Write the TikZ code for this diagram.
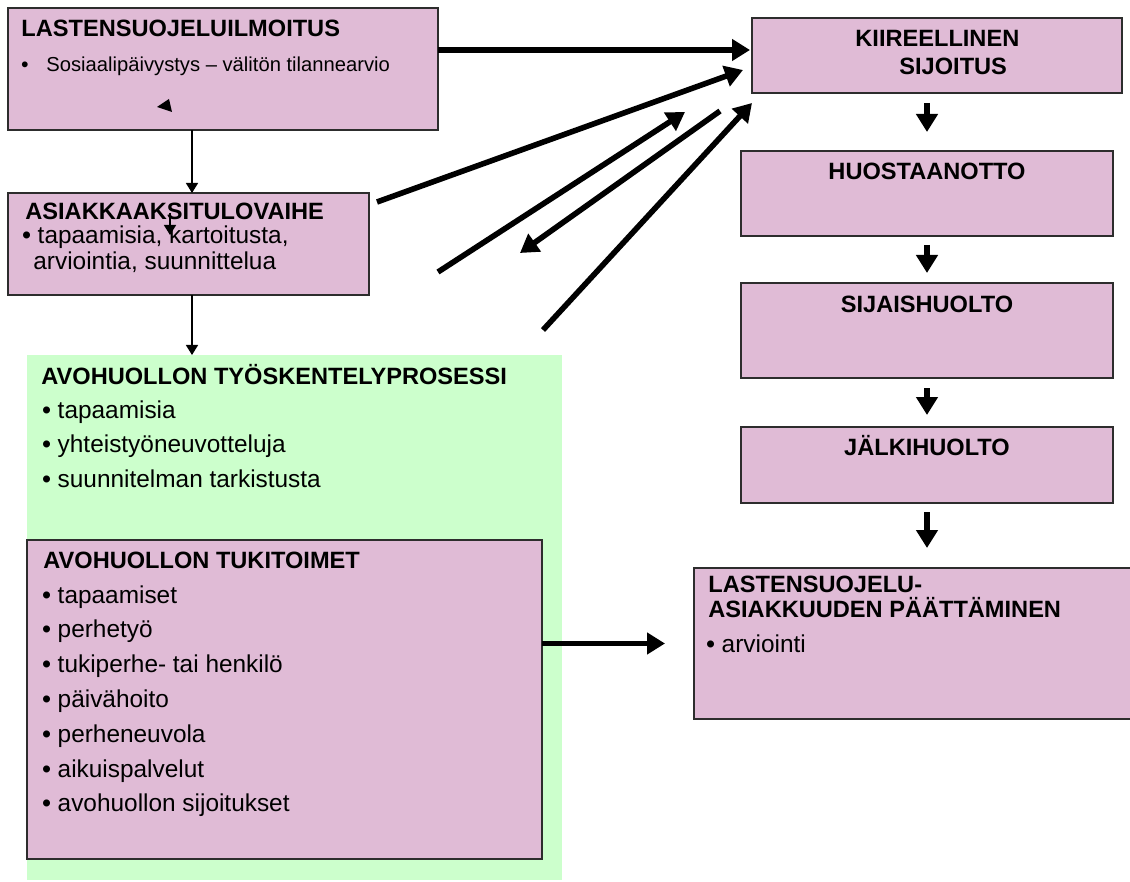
\documentclass[tikz,border=0pt]{standalone}
\usepackage{fontspec}
\setmainfont{Liberation Sans}
\usetikzlibrary{arrows.meta,calc}
\definecolor{pinkbox}{RGB}{224,187,214}
\definecolor{greenbox}{RGB}{204,255,204}
\definecolor{edgecol}{RGB}{45,45,45}
\newcommand{\bul}{{\bfseries •}}
\begin{document}
\begin{tikzpicture}[x=0.5pt,y=-0.5pt,
  box/.style={draw=edgecol, line width=1pt, fill=pinkbox, inner sep=0pt, outer sep=0pt, anchor=north west},
  head/.style={anchor=base west, inner sep=0pt, font=\fontsize{11.8}{14}\selectfont\bfseries},
  headc/.style={anchor=base, inner sep=0pt, font=\fontsize{11.8}{14}\selectfont\bfseries},
  body/.style={anchor=base west, inner sep=0pt, font=\fontsize{12.2}{14}\selectfont},
  small/.style={anchor=base west, inner sep=0pt, font=\fontsize{10.1}{12}\selectfont},
  fat/.style={line width=2.8pt, -{Triangle[length=9pt,width=10.5pt]}},
  thinarr/.style={line width=0.75pt, -{Triangle[length=5pt,width=6pt]}},
]
\useasboundingbox (0,0) rectangle (1130,882);
\clip (0,0) rectangle (1130,882);

% ---------- boxes ----------
\node[fill=greenbox, inner sep=0pt, outer sep=0pt, anchor=north west,
      minimum width=267.5pt, minimum height=262.5pt] (green) at (27,355) {};
\node[box, minimum width=215pt, minimum height=61pt] (b1) at (8,8) {};
\node[box, minimum width=180.5pt, minimum height=51pt] (b2) at (8,193) {};
\node[box, minimum width=257.5pt, minimum height=159.5pt] (tuki) at (27,540) {};
\node[box, minimum width=185pt, minimum height=37.5pt] (kiir) at (752,18) {};
\node[box, minimum width=186pt, minimum height=42.5pt] (huos) at (741,151) {};
\node[box, minimum width=186pt, minimum height=47.5pt] (sija) at (741,283) {};
\node[box, minimum width=186pt, minimum height=38pt] (jalki) at (741,427) {};
\node[box, minimum width=225pt, minimum height=75.5pt] (last) at (694,568) {};

% ---------- texts ----------
\node[head] (t1) at (21,37) {LASTENSUOJELUILMOITUS};
\node[small] (t1bul) at (21,72) {\bul};
\node[small] (t1a) at (46,72) {Sosiaalipäivystys – välitön tilannearvio};

\node[head] (t2) at (25,220) {ASIAKKAAKSITULOVAIHE};
\node[body] (t2a) at (22,244) {\bul{} tapaamisia, kartoitusta,};
\node[body] (t2b) at (33,270) {arviointia, suunnittelua};

\node[head] (tg) at (41,385) {AVOHUOLLON TYÖSKENTELYPROSESSI};
\node[body] (tg1) at (42,418) {\bul{} tapaamisia};
\node[body] (tg2) at (42,452) {\bul{} yhteistyöneuvotteluja};
\node[body] (tg3) at (42,487) {\bul{} suunnitelman tarkistusta};

\node[head] (tt) at (43,568) {AVOHUOLLON TUKITOIMET};
\node[body] (tt1) at (42,603) {\bul{} tapaamiset};
\node[body] (tt2) at (42,637.8) {\bul{} perhetyö};
\node[body] (tt3) at (42,672.6) {\bul{} tukiperhe- tai henkilö};
\node[body] (tt4) at (42,707.4) {\bul{} päivähoito};
\node[body] (tt5) at (42,742.2) {\bul{} perheneuvola};
\node[body] (tt6) at (42,777) {\bul{} aikuispalvelut};
\node[body] (tt7) at (42,811.8) {\bul{} avohuollon sijoitukset};

\node[head] (tk1) at (855,47) {KIIREELLINEN};
\node[head] (tk2) at (899,75) {SIJOITUS};
\node[headc] (th) at (927,180) {HUOSTAANOTTO};
\node[headc] (ts) at (927,313) {SIJAISHUOLTO};
\node[headc] (tj) at (927,455) {JÄLKIHUOLTO};

\node[head] (tl1) at (708,592) {LASTENSUOJELU-};
\node[head] (tl2) at (708,617) {ASIAKKUUDEN PÄÄTTÄMINEN};
\node[body] (tl3) at (706,652) {\bul{} arviointi};

% ---------- thin connectors ----------
\coordinate (vx) at (192,0);
\draw[thinarr] (b1.south -| vx) -- (b2.north -| vx);
\draw[thinarr] (b2.south -| vx) -- (green.north -| vx);
% stray small marks
\fill (157,107) -- (169,99) -- (172,112) -- cycle;
\coordinate (sa) at (170,213);
\coordinate (sb) at (170,235);
\draw[thinarr] (sa) -- (sb);

% ---------- thick connectors ----------
\draw[fat] ($(b1.north east)+(0,42)$) -- ($(kiir.north west)+(-2,32)$);
\draw[fat] ($(b2.north east)+(8,9)$) -- ($(kiir.north west)+(-9,52)$);
\coordinate (c1s) at (438,272);
\coordinate (c1e) at (685,112);
\draw[fat] (c1s) -- (c1e);
\coordinate (c2s) at (720,111);
\coordinate (c2e) at (520,253);
\draw[fat] (c2s) -- (c2e);
\coordinate (c3s) at (543,330);
\coordinate (c3e) at (752,103);
\draw[fat] (c3s) -- (c3e);

\draw[fat] (tuki.east |- last.west) -- ($(last.west)+(-29,0)$);

\coordinate (ax) at (927,0);
\draw[fat, shorten <=5pt, shorten >=9.5pt] (kiir.south -| ax) -- (huos.north -| ax);
\draw[fat, shorten <=4.5pt, shorten >=5pt] (huos.south -| ax) -- (sija.north -| ax);
\draw[fat, shorten <=5pt, shorten >=6pt] (sija.south -| ax) -- (jalki.north -| ax);
\draw[fat, shorten <=4.5pt, shorten >=10pt] (jalki.south -| ax) -- (last.north -| ax);
\end{tikzpicture}
\end{document}
